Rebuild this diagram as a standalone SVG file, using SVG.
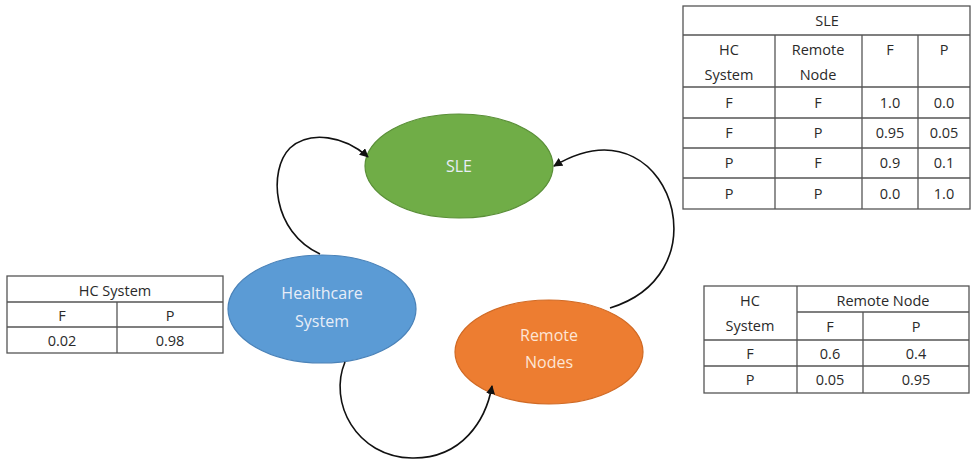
<svg xmlns="http://www.w3.org/2000/svg" width="973" height="466" viewBox="0 0 973 466">
<defs>
<marker id="ah" viewBox="0 0 10 10" refX="9" refY="5" markerWidth="9" markerHeight="9" orient="auto" markerUnits="userSpaceOnUse"><path d="M0,0 L10,5 L0,10 z" fill="#111"/></marker>
<style>
.tb{fill:#fff;stroke:#555;stroke-width:1.3}
.ln{stroke:#555;stroke-width:1.3}
.t{font-family:"Open Sans","Liberation Sans",sans-serif;font-size:14.5px;fill:#2a2a2a;text-anchor:middle}
.nt{font-family:"Open Sans","Liberation Sans",sans-serif;font-size:16px;fill:#e8eef8;text-anchor:middle}
.c{fill:none;stroke:#111;stroke-width:1.6;marker-end:url(#ah)}
</style>
</defs>
<rect width="973" height="466" fill="#fff"/>
<g id="sle">
<ellipse cx="459" cy="166" rx="94" ry="52" fill="#70AD47" stroke="#5a8f38" stroke-width="1.2"/>
<text class="nt" x="459" y="172">SLE</text>
</g>
<g id="healthcare">
<ellipse cx="322" cy="309" rx="94" ry="54" fill="#5B9BD5" stroke="#4a82b8" stroke-width="1.2"/>
<text class="nt" x="322" y="299">Healthcare</text>
<text class="nt" x="322" y="327">System</text>
</g>
<g id="remote">
<ellipse cx="549" cy="352" rx="94" ry="52" fill="#ED7D31" stroke="#d06a25" stroke-width="1.2"/>
<text class="nt" x="549" y="341" style="fill:#fde6d6">Remote</text>
<text class="nt" x="549" y="368" style="fill:#fde6d6">Nodes</text>
</g>
<g id="connectors">
<path class="c" d="M320,254 C272,232 268,170 290,148 C310,130 345,136 368,157"/>
<path class="c" d="M610,308 C662,292 680,250 672,210 C662,165 618,128 554,166"/>
<path class="c" d="M345,362 C328,402 356,457 412,458 C462,459 486,420 492,386"/>
</g>
<g id="sle-table">
<rect class="tb" x="683" y="6" width="287" height="203"/>
<line class="ln" x1="683" y1="35" x2="970" y2="35"/>
<line class="ln" x1="683" y1="87" x2="970" y2="87"/>
<line class="ln" x1="683" y1="118" x2="970" y2="118"/>
<line class="ln" x1="683" y1="148" x2="970" y2="148"/>
<line class="ln" x1="683" y1="178" x2="970" y2="178"/>
<line class="ln" x1="775" y1="35" x2="775" y2="209"/>
<line class="ln" x1="862" y1="35" x2="862" y2="209"/>
<line class="ln" x1="918" y1="35" x2="918" y2="209"/>
<text class="t" x="827" y="26">SLE</text>
<text class="t" x="729" y="55">HC</text>
<text class="t" x="729" y="80">System</text>
<text class="t" x="818" y="55">Remote</text>
<text class="t" x="818" y="80">Node</text>
<text class="t" x="890" y="55">F</text>
<text class="t" x="944" y="55">P</text>
<text class="t" x="729" y="108">F</text><text class="t" x="818" y="108">F</text><text class="t" x="890" y="108">1.0</text><text class="t" x="944" y="108">0.0</text>
<text class="t" x="729" y="138">F</text><text class="t" x="818" y="138">P</text><text class="t" x="890" y="138">0.95</text><text class="t" x="944" y="138">0.05</text>
<text class="t" x="729" y="168">P</text><text class="t" x="818" y="168">F</text><text class="t" x="890" y="168">0.9</text><text class="t" x="944" y="168">0.1</text>
<text class="t" x="729" y="199">P</text><text class="t" x="818" y="199">P</text><text class="t" x="890" y="199">0.0</text><text class="t" x="944" y="199">1.0</text>
</g>
<g id="hc-table">
<rect class="tb" x="7" y="276" width="216" height="77"/>
<line class="ln" x1="7" y1="302" x2="223" y2="302"/>
<line class="ln" x1="7" y1="327" x2="223" y2="327"/>
<line class="ln" x1="117" y1="302" x2="117" y2="353"/>
<text class="t" x="115" y="296">HC System</text>
<text class="t" x="62" y="321">F</text>
<text class="t" x="170" y="321">P</text>
<text class="t" x="62" y="346">0.02</text>
<text class="t" x="170" y="346">0.98</text>
</g>
<g id="rn-table">
<rect class="tb" x="704" y="286" width="265" height="107"/>
<line class="ln" x1="797" y1="312" x2="969" y2="312"/>
<line class="ln" x1="704" y1="340" x2="969" y2="340"/>
<line class="ln" x1="704" y1="366" x2="969" y2="366"/>
<line class="ln" x1="797" y1="286" x2="797" y2="393"/>
<line class="ln" x1="863" y1="312" x2="863" y2="393"/>
<text class="t" x="750" y="306">HC</text>
<text class="t" x="750" y="331">System</text>
<text class="t" x="883" y="306">Remote Node</text>
<text class="t" x="830" y="332">F</text>
<text class="t" x="916" y="332">P</text>
<text class="t" x="750" y="359">F</text><text class="t" x="830" y="359">0.6</text><text class="t" x="916" y="359">0.4</text>
<text class="t" x="750" y="385">P</text><text class="t" x="830" y="385">0.05</text><text class="t" x="916" y="385">0.95</text>
</g>
</svg>
